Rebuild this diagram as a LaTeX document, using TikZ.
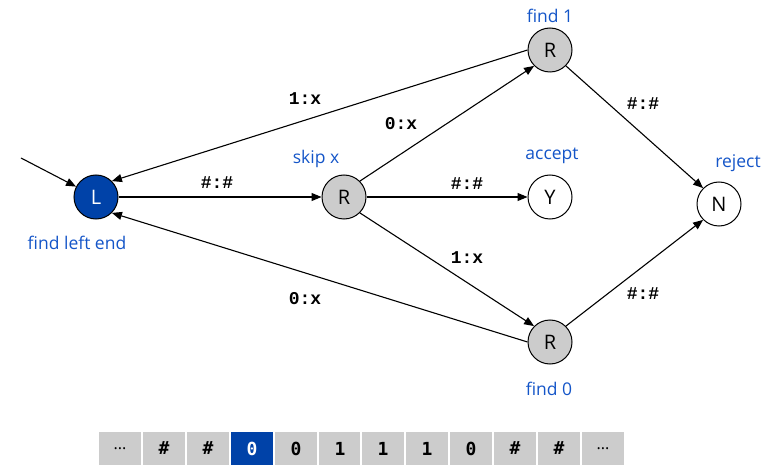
\documentclass[tikz,border=0pt]{standalone}
\usepackage{fontspec}
\setsansfont{Open Sans}
\newfontfamily\lblfont{Liberation Mono}
\newfontfamily\tapefont{DejaVu Sans Mono}
\usetikzlibrary{arrows.meta}
\definecolor{stblue}{RGB}{0,66,168}
\definecolor{txtblue}{RGB}{20,85,200}
\definecolor{stgray}{RGB}{204,204,204}
\begin{document}
\begin{tikzpicture}[x=1pt,y=-1pt,
  state/.style={circle,draw,line width=1pt,minimum size=44pt,inner sep=0pt,font=\sffamily\fontsize{20}{20}\selectfont},
  trans/.style={line width=1.1pt,-{Triangle[length=10pt,width=8pt]}},
  lbl/.style={inner sep=0pt,font=\lblfont\bfseries\fontsize{18}{18}\selectfont},
  note/.style={inner sep=0pt,text=txtblue,font=\sffamily\fontsize{17.5}{17.5}\selectfont},
  cell/.style={rectangle,fill=stgray,draw=white,line width=1.5pt,minimum width=44pt,minimum height=34pt,inner sep=0pt,font=\tapefont\bfseries\fontsize{18}{18}\selectfont},
  dotcell/.style={cell,font=\sffamily\fontsize{16}{16}\selectfont}]
\useasboundingbox (0,0) rectangle (779,465);
% states
\node[state,fill=stblue,text=white] (L) at (96,197) {L};
\node[state,fill=stgray] (S) at (344,197) {R};
\node[state,fill=stgray] (F1) at (550,50) {R};
\node[state,fill=white] (Y) at (550,197) {Y};
\node[state,fill=white] (N) at (719,204) {N};
\node[state,fill=stgray] (F0) at (550,342) {R};
\coordinate (start) at (21,158);
% transitions
\draw[trans] (start) -- (L);
\draw[trans] (L.east) -- (S.west);
\draw[trans] (F1.west) -- (L.north east);
\draw[trans] (S.north east) -- (F1.south west);
\draw[trans] (S.east) -- (Y.west);
\draw[trans] (S.south east) -- (F0.north west);
\draw[trans] (F0.west) -- (L.south east);
\draw[trans] (F1.south east) -- (N.north west);
\draw[trans] (F0.north east) -- (N.south west);
% transition labels
\node[lbl] (l1) at (305,99) {1:x};
\node[lbl] (l2) at (401,124) {0:x};
\node[lbl] (l3) at (217,183) {\#:\#};
\node[lbl] (l4) at (467,184) {\#:\#};
\node[lbl] (l5) at (467,258) {1:x};
\node[lbl] (l6) at (305,299) {0:x};
\node[lbl] (l7) at (643,104) {\#:\#};
\node[lbl] (l8) at (643,294) {\#:\#};
% state notes
\node[note] (n1) at (550,16) {find 1};
\node[note] (n2) at (316,159) {skip x};
\node[note] (n3) at (552,156) {accept};
\node[note] (n4) at (738,163) {reject};
\node[note] (n5) at (77,243) {find left end};
\node[note] (n6) at (549,389) {find 0};
% tape
\node[dotcell] (t0) at (120,448.5) {...};
\node[cell] (t1) at (164,448.5) {\#};
\node[cell] (t2) at (208,448.5) {\#};
\node[cell,fill=stblue,text=white] (t3) at (252,448.5) {0};
\node[cell] (t4) at (296,448.5) {0};
\node[cell] (t5) at (340,448.5) {1};
\node[cell] (t6) at (383,448.5) {1};
\node[cell] (t7) at (427,448.5) {1};
\node[cell] (t8) at (471,448.5) {0};
\node[cell] (t9) at (515,448.5) {\#};
\node[cell] (t10) at (559,448.5) {\#};
\node[dotcell] (t11) at (603,448.5) {...};
\end{tikzpicture}
\end{document}
